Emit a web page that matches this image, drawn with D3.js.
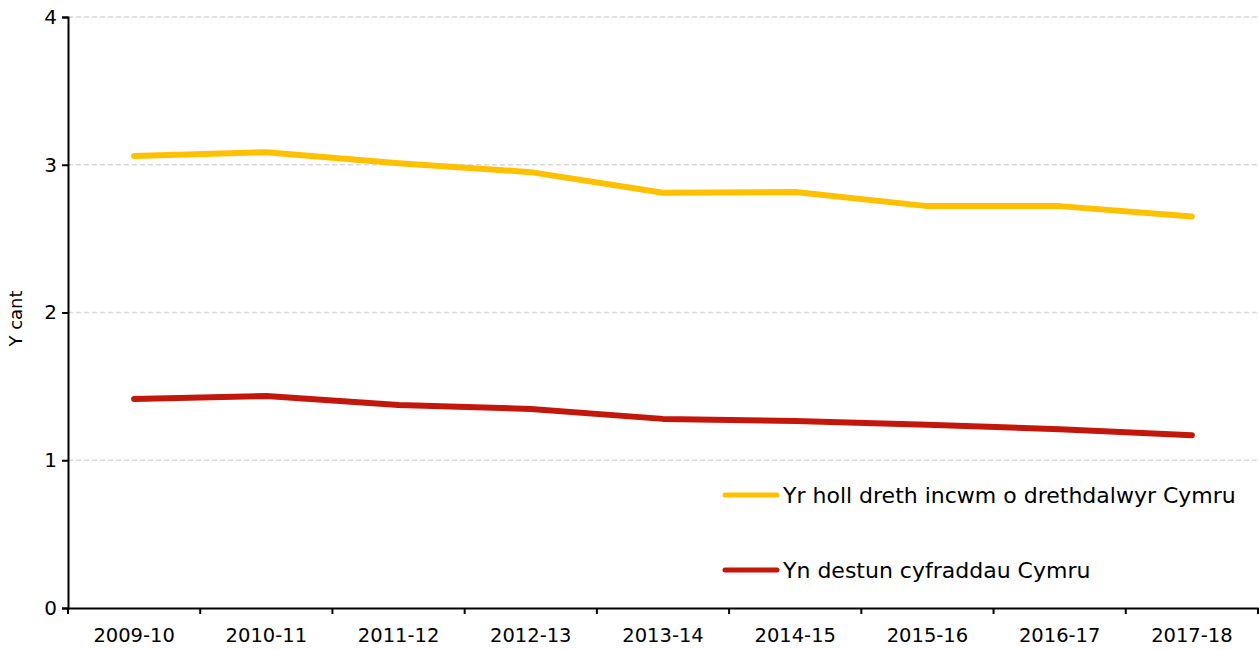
<!DOCTYPE html>
<html lang="cy">
<head>
    <meta charset="UTF-8">
    <title>Treth incwm</title>
    <script src="https://cdn.jsdelivr.net/npm/d3@7"></script>
    <style>
        body { margin: 0; background: #fff; }
        text { font-family: "DejaVu Sans", sans-serif; fill: #000; }
        .grid line { stroke: #d9d9d9; stroke-width: 1.3; stroke-dasharray: 5, 3; }
    </style>
</head>
<body>
<script>
    // data
    const years = ["2009-10", "2010-11", "2011-12", "2012-13", "2013-14", "2014-15", "2015-16", "2016-17", "2017-18"];
    const allIncomeTax = [3.06, 3.085, 3.01, 2.95, 2.81, 2.815, 2.72, 2.72, 2.65];
    const welshRates = [1.415, 1.435, 1.374, 1.347, 1.28, 1.266, 1.24, 1.21, 1.17];
    const seriesNames = ["Yr holl dreth incwm o drethdalwyr Cymru", "Yn destun cyfraddau Cymru"];
    const seriesColors = ["#ffc000", "#c4170c"];
    const yTicks = [0, 1, 2, 3, 4];

    const W = 1259, H = 650;
    const margin = {top: 17, right: 1, bottom: 42, left: 68};

    const svg = d3.select("body").append("svg").attr("width", W).attr("height", H);

    const x = d3.scaleBand().domain(years).range([margin.left, W - margin.right]);
    const y = d3.scaleLinear().domain([0, 4]).range([H - margin.bottom, margin.top]);

    // gridlines
    svg.append("g").attr("class", "grid")
        .selectAll("line").data(yTicks.filter(d => d > 0)).join("line")
        .attr("x1", margin.left).attr("x2", W)
        .attr("y1", d => y(d)).attr("y2", d => y(d));

    // y axis
    const yAxis = svg.append("g").attr("transform", `translate(${margin.left},0)`)
        .call(d3.axisLeft(y).tickValues(yTicks).tickFormat(d3.format("d")).tickSize(6).tickPadding(5));
    yAxis.selectAll("path, line").attr("stroke", "#000").attr("stroke-width", 2);
    yAxis.selectAll("text").attr("font-size", 20).attr("font-family", "DejaVu Sans, sans-serif");

    // x axis with ticks between categories
    const xAxis = svg.append("g").attr("transform", `translate(0,${y(0)})`)
        .call(d3.axisBottom(x).tickSize(0).tickPadding(20));
    xAxis.select("path").attr("stroke", "#000").attr("stroke-width", 2);
    xAxis.selectAll("text").attr("font-size", 19.5).attr("font-family", "DejaVu Sans, sans-serif");
    const bounds = years.map(d => x(d)).concat([x(years[years.length - 1]) + x.bandwidth()]);
    xAxis.selectAll("line.sep").data(bounds).join("line").attr("class", "sep")
        .attr("x1", d => d).attr("x2", d => d).attr("y1", 0).attr("y2", 6)
        .attr("stroke", "#000").attr("stroke-width", 2);

    // y label
    svg.append("text")
        .attr("transform", `translate(22,${(y(0) + y(4)) / 2 + 6}) rotate(-90)`)
        .attr("text-anchor", "middle").attr("font-size", 18)
        .text("Y cant");

    // lines
    const line = d3.line().x((d, i) => x(years[i]) + x.bandwidth() / 2).y(d => y(d));
    [allIncomeTax, welshRates].forEach((vals, i) => {
        svg.append("path").datum(vals)
            .attr("d", line)
            .attr("fill", "none")
            .attr("stroke", seriesColors[i])
            .attr("stroke-width", 6)
            .attr("stroke-linecap", "round")
            .attr("stroke-linejoin", "round");
    });

    // legend
    const legendY = [495, 570];
    const legend = svg.append("g");
    seriesNames.forEach((name, i) => {
        legend.append("line")
            .attr("x1", 725).attr("x2", 777)
            .attr("y1", legendY[i]).attr("y2", legendY[i])
            .attr("stroke", seriesColors[i]).attr("stroke-width", 5)
            .attr("stroke-linecap", "round");
        legend.append("text")
            .attr("x", 783).attr("y", legendY[i]).attr("dy", "0.35em")
            .attr("font-size", 22)
            .text(name);
    });
</script>
</body>
</html>
